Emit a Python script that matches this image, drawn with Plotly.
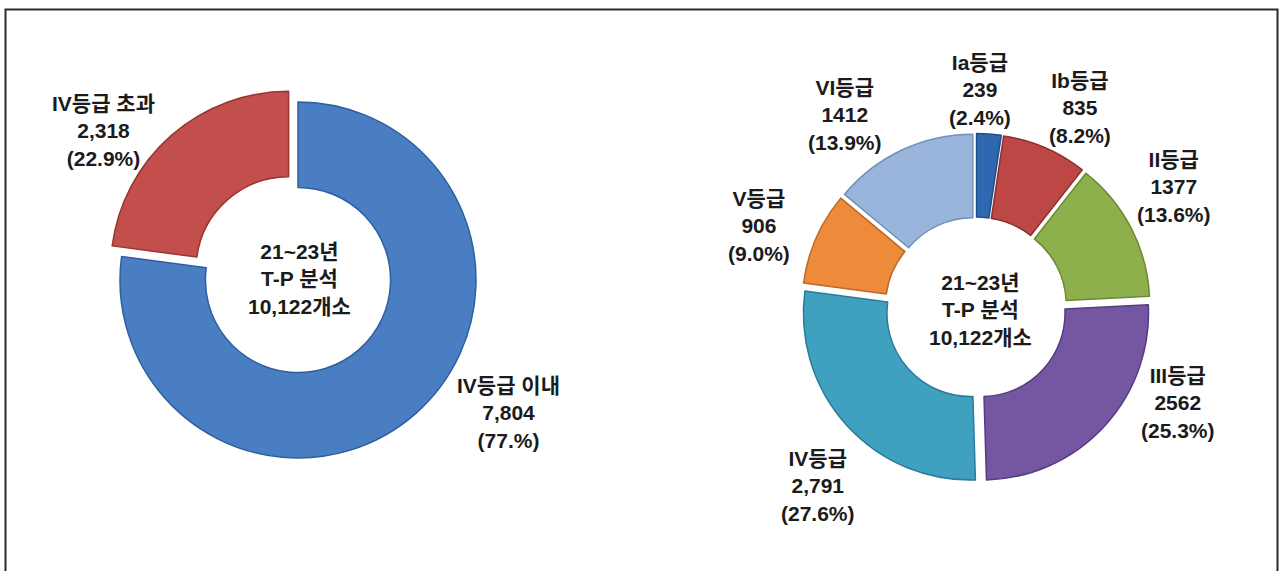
import plotly.graph_objects as go

W, H = 1283, 571

# ---- data ----
left_names = ["IV등급 이내", "IV등급 초과"]
left_values = [7804, 2318]
left_value_text = ["7,804", "2,318"]
left_pct_text = ["(77.%)", "(22.9%)"]

right_names = ["Ia등급", "Ib등급", "II등급", "III등급", "IV등급", "V등급", "VI등급"]
right_values = [239, 835, 1377, 2562, 2791, 906, 1412]
right_value_text = ["239", "835", "1377", "2562", "2,791", "906", "1412"]
right_pct_text = ["(2.4%)", "(8.2%)", "(13.6%)", "(25.3%)", "(27.6%)", "(9.0%)", "(13.9%)"]

center_text = ["21~23년", "T-P 분석", "10,122개소"]

# ---- styles ----
left_colors = ["#4A7EC3", "#C24F4B"]
left_edges = ["#2F5E9E", "#9A3532"]
right_colors = ["#2F68B0", "#BC4744", "#8EB04C", "#7457A0", "#40A0C0", "#EE8B3A", "#9AB5DC"]
right_edges = ["#1E4D8A", "#8E2F2D", "#6A8A33", "#553C80", "#2B7C98", "#BF6724", "#7490BA"]

FONT = "Liberation Sans, Noto Sans CJK KR, sans-serif"
TXT = "#1b1b1b"
FS = 21

def px(x):
    return x / W

def py(y):
    return 1 - y / H

fig = go.Figure()

# left donut: center (298, 280), r ~178, red pulled
lp = [0, 0.08]
lr = 178
lbox = lr * (2 + 2 * max(lp))
lcx, lcy = 298, 280
fig.add_trace(go.Pie(
    values=left_values, labels=left_names, sort=False, direction="clockwise",
    rotation=0, hole=0.52, pull=lp, textinfo="none", hoverinfo="label+value+percent",
    marker=dict(colors=left_colors, line=dict(color=left_edges, width=1.5)),
    domain=dict(x=[px(lcx - lbox / 2), px(lcx + lbox / 2)],
                y=[py(lcy + lbox / 2), py(lcy - lbox / 2)]),
    showlegend=False,
))

# right donut: center (976, 308), r ~167, all slices pulled
rp = [0.045] * len(right_values)
rr = 167
rbox = rr * (2 + 2 * max(rp))
rcx, rcy = 976, 308
fig.add_trace(go.Pie(
    values=right_values, labels=right_names, sort=False, direction="clockwise",
    rotation=0, hole=0.5, pull=rp, textinfo="none", hoverinfo="label+value+percent",
    marker=dict(colors=right_colors, line=dict(color=right_edges, width=1.5)),
    domain=dict(x=[px(rcx - rbox / 2), px(rcx + rbox / 2)],
                y=[py(rcy + rbox / 2), py(rcy - rbox / 2)]),
    showlegend=False,
))

# label positions (pixel centers of each label block)
left_label_pos = [(508, 413), (103, 131)]
right_label_pos = [(980, 90), (1080, 108), (1174, 187), (1178, 403),
                   (818, 486), (759, 226), (845, 115)]

annotations = []
for (x, y), n, v, p in zip(left_label_pos, left_names, left_value_text, left_pct_text):
    annotations.append(dict(x=px(x), y=py(y), xref="paper", yref="paper",
                            text=f"<b>{n}<br>{v}<br>{p}</b>", showarrow=False,
                            font=dict(family=FONT, size=FS, color=TXT),
                            xanchor="center", yanchor="middle", align="center"))
for (x, y), n, v, p in zip(right_label_pos, right_names, right_value_text, right_pct_text):
    annotations.append(dict(x=px(x), y=py(y), xref="paper", yref="paper",
                            text=f"<b>{n}<br>{v}<br>{p}</b>", showarrow=False,
                            font=dict(family=FONT, size=FS, color=TXT),
                            xanchor="center", yanchor="middle", align="center"))

for (x, y) in [(299, 279), (980, 310)]:
    annotations.append(dict(x=px(x), y=py(y), xref="paper", yref="paper",
                            text="<b>" + "<br>".join(center_text) + "</b>", showarrow=False,
                            font=dict(family=FONT, size=FS, color=TXT),
                            xanchor="center", yanchor="middle", align="center"))

# outer frame
shapes = [dict(type="rect", xref="paper", yref="paper",
               x0=px(5.5), x1=px(1277.5), y0=-0.05, y1=py(9.5),
               line=dict(color="#2a2a2a", width=2), fillcolor="rgba(0,0,0,0)")]

fig.update_layout(
    width=W, height=H, margin=dict(l=0, r=0, t=0, b=0),
    paper_bgcolor="white", plot_bgcolor="white",
    annotations=annotations, shapes=shapes,
)

fig.write_html("out.html", config={"displayModeBar": False},
               post_script="document.body.style.margin='0';document.body.style.overflow='hidden';")
